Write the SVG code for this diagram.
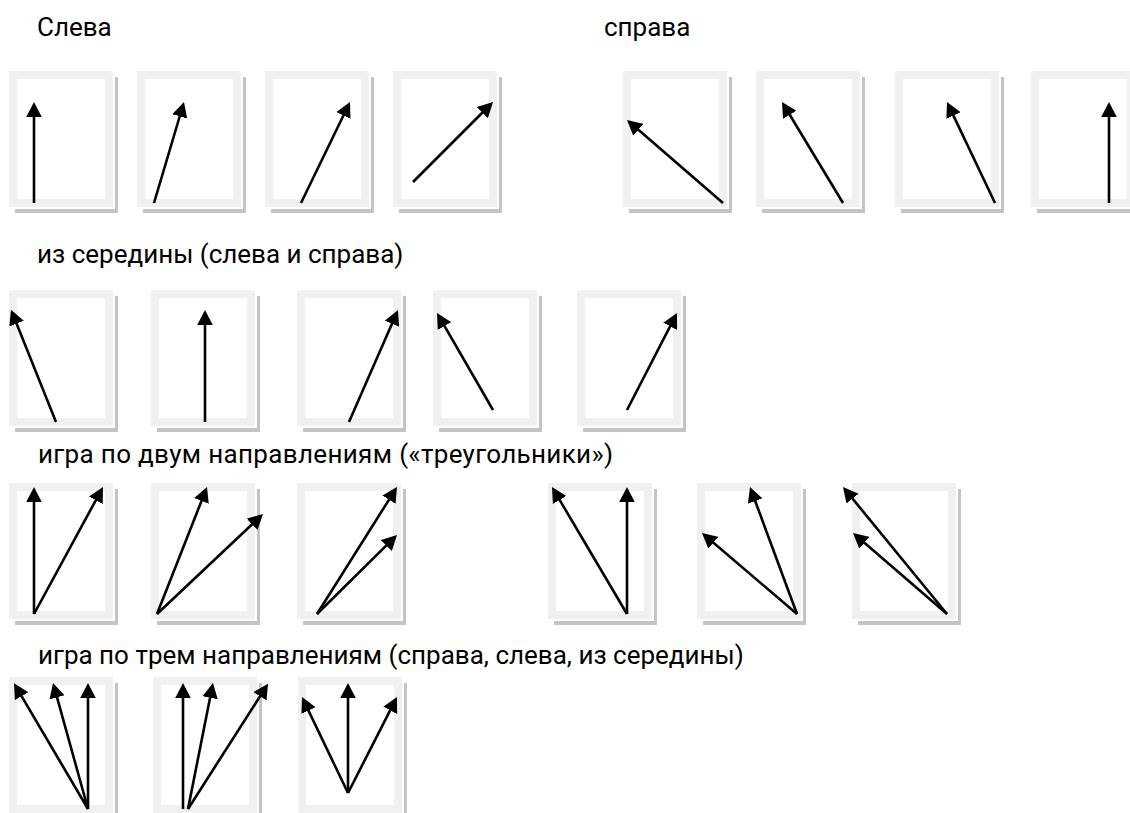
<svg xmlns="http://www.w3.org/2000/svg" xmlns:xlink="http://www.w3.org/1999/xlink" width="1130" height="813" viewBox="0 0 1130 813">
<style>
.t{font-family:Roboto,"Noto Sans","Liberation Sans",sans-serif;font-size:26px;fill:#000}
.a{stroke:#000;stroke-width:2.6;fill:none;marker-end:url(#ah)}
</style>
<defs>
<marker id="ah" viewBox="0 -8 16 16" refX="3" refY="0" markerWidth="16" markerHeight="16" markerUnits="userSpaceOnUse" orient="auto">
<path d="M0,-7.8 L15,0 L0,7.8 z" fill="#000"/>
</marker>
<g id="card">
<rect x="6" y="6" width="103" height="136" fill="#c4c4c4"/>
<rect x="0" y="0" width="106" height="138" fill="#ffffff"/>
<rect x="0" y="0" width="104" height="136" fill="#f0f0f0"/>
<rect x="8" y="8" width="88" height="120" fill="#ffffff"/>
</g>
</defs>
<rect width="1130" height="813" fill="#ffffff"/>
<g id="labels">
<text class="t" x="37" y="36">Слева</text>
<text class="t" x="604" y="36">справа</text>
<text class="t" x="37" y="263">из середины (слева и справа)</text>
<text class="t" x="38" y="463" textLength="575">игра по двум направлениям («треугольники»)</text>
<text class="t" x="38" y="664">игра по трем направлениям (справа, слева, из середины)</text>
</g>
<g id="r1c1"><use xlink:href="#card" x="9" y="71"/></g>
<g id="r1c2"><use xlink:href="#card" x="137" y="71"/></g>
<g id="r1c3"><use xlink:href="#card" x="265" y="71"/></g>
<g id="r1c4"><use xlink:href="#card" x="393" y="71"/></g>
<g id="r1c5"><use xlink:href="#card" x="623" y="71"/></g>
<g id="r1c6"><use xlink:href="#card" x="756" y="71"/></g>
<g id="r1c7"><use xlink:href="#card" x="895" y="71"/></g>
<g id="r1c8"><use xlink:href="#card" x="1031" y="71"/></g>
<g id="r2c1"><use xlink:href="#card" x="9" y="290"/></g>
<g id="r2c2"><use xlink:href="#card" x="151" y="290"/></g>
<g id="r2c3"><use xlink:href="#card" x="297" y="290"/></g>
<g id="r2c4"><use xlink:href="#card" x="433" y="290"/></g>
<g id="r2c5"><use xlink:href="#card" x="577" y="290"/></g>
<g id="r3c1"><use xlink:href="#card" x="9" y="483"/></g>
<g id="r3c2"><use xlink:href="#card" x="151" y="483"/></g>
<g id="r3c3"><use xlink:href="#card" x="297" y="483"/></g>
<g id="r3c4"><use xlink:href="#card" x="548" y="483"/></g>
<g id="r3c5"><use xlink:href="#card" x="697" y="483"/></g>
<g id="r3c6"><use xlink:href="#card" x="852" y="483"/></g>
<g id="r4c1"><use xlink:href="#card" x="9" y="677"/></g>
<g id="r4c2"><use xlink:href="#card" x="153" y="677"/></g>
<g id="r4c3"><use xlink:href="#card" x="298" y="677"/></g>
<g id="connectors">
<line class="a" x1="34" y1="203" x2="34" y2="114"/>
<line class="a" x1="154" y1="203" x2="180.58" y2="113.5"/>
<line class="a" x1="301" y1="203" x2="344.76" y2="112.8"/>
<line class="a" x1="413" y1="182" x2="484.51" y2="110.49"/>
<line class="a" x1="723" y1="203" x2="636.08" y2="127.85"/>
<line class="a" x1="843" y1="203" x2="788.2" y2="112.27"/>
<line class="a" x1="995" y1="203" x2="952.15" y2="112.84"/>
<line class="a" x1="1109" y1="203" x2="1109" y2="114"/>
<line class="a" x1="56" y1="422" x2="15.44" y2="320.85"/>
<line class="a" x1="205" y1="422" x2="205" y2="322"/>
<line class="a" x1="349" y1="422" x2="393.19" y2="320.99"/>
<line class="a" x1="493" y1="410" x2="443" y2="323.39"/>
<line class="a" x1="627" y1="410" x2="671.5" y2="323.67"/>
<line class="a" x1="34" y1="614" x2="34" y2="499"/>
<line class="a" x1="34" y1="614" x2="97.27" y2="497.54"/>
<line class="a" x1="157" y1="614" x2="202.6" y2="498.17"/>
<line class="a" x1="157" y1="614" x2="254.27" y2="522.23"/>
<line class="a" x1="317" y1="614" x2="390.6" y2="497.15"/>
<line class="a" x1="317" y1="614" x2="388.46" y2="543.43"/>
<line class="a" x1="627" y1="614" x2="558.1" y2="497.33"/>
<line class="a" x1="627" y1="614" x2="627" y2="499"/>
<line class="a" x1="797" y1="614" x2="754.16" y2="498.25"/>
<line class="a" x1="797" y1="614" x2="711.13" y2="540.79"/>
<line class="a" x1="947" y1="614" x2="850.6" y2="496.28"/>
<line class="a" x1="947" y1="614" x2="862.09" y2="540.83"/>
<line class="a" x1="88" y1="809" x2="20.08" y2="693.65"/>
<line class="a" x1="88" y1="809" x2="56.21" y2="694.44"/>
<line class="a" x1="88" y1="809" x2="88" y2="695"/>
<line class="a" x1="183" y1="809" x2="183" y2="695"/>
<line class="a" x1="188" y1="809" x2="210.66" y2="694.77"/>
<line class="a" x1="188" y1="809" x2="261.57" y2="693.87"/>
<line class="a" x1="348" y1="793" x2="307.19" y2="707.82"/>
<line class="a" x1="348" y1="793" x2="348" y2="695"/>
<line class="a" x1="348" y1="793" x2="391.54" y2="707.69"/>
</g>
</svg>
